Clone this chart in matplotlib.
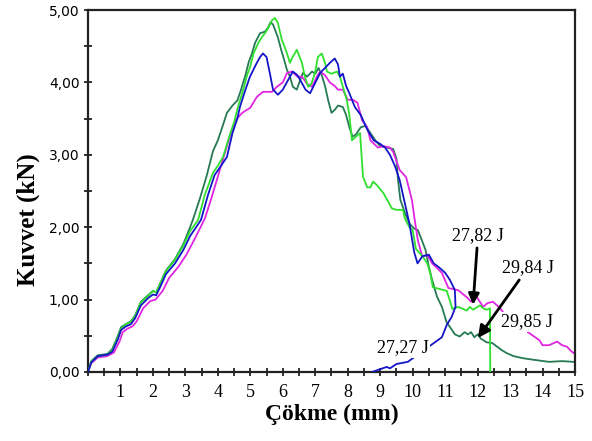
import matplotlib
matplotlib.use('Agg')
import matplotlib.pyplot as plt
from matplotlib.ticker import MultipleLocator
import numpy as np

# ---- data (x: Cokme mm, y: Kuvvet kN) ----
dkgreen_x = [0, 0.1, 0.3, 0.6, 0.75, 0.92, 1.02, 1.17, 1.32, 1.45, 1.63, 1.85, 2.0, 2.1, 2.22, 2.4,
             2.68, 2.93, 3.1, 3.23, 3.45, 3.65, 3.85, 4.0, 4.15, 4.28, 4.45, 4.6, 4.7, 4.85, 4.95,
             5.05, 5.15, 5.3, 5.45, 5.55, 5.62, 5.7, 5.85, 5.95, 6.05, 6.13, 6.22, 6.31, 6.43, 6.55,
             6.62, 6.75, 6.9, 7.0, 7.1, 7.2, 7.3, 7.4, 7.5, 7.6, 7.7, 7.85, 7.95, 8.05, 8.15, 8.25,
             8.4, 8.55, 8.7, 8.85, 9.0, 9.2, 9.4, 9.5, 9.55, 9.62, 9.76, 9.9, 10.05, 10.16, 10.3,
             10.4, 10.5, 10.6, 10.75, 10.9, 11.05, 11.15, 11.3, 11.45, 11.6, 11.7, 11.8, 11.9, 12.0,
             12.1, 12.28, 12.45, 12.6, 12.75, 12.9, 13.1, 13.4, 13.7, 14.2, 14.6, 14.95]
dkgreen_y = [0, 0.15, 0.23, 0.25, 0.32, 0.5, 0.62, 0.66, 0.7, 0.78, 0.97, 1.06, 1.12, 1.1, 1.22, 1.4,
             1.56, 1.76, 1.95, 2.1, 2.4, 2.7, 3.05, 3.2, 3.4, 3.58, 3.68, 3.75, 3.88, 4.1, 4.28,
             4.4, 4.55, 4.68, 4.7, 4.76, 4.83, 4.8, 4.62, 4.45, 4.3, 4.17, 4.08, 3.94, 3.9, 4.05,
             4.13, 4.08, 4.15, 4.12, 4.2, 4.1, 3.95, 3.75, 3.58, 3.62, 3.68, 3.66, 3.55, 3.38, 3.25, 3.28,
             3.38, 3.4, 3.3, 3.2, 3.12, 3.1, 3.08, 2.95, 2.65, 2.38, 2.2, 2.05, 1.98, 1.96, 1.8,
             1.68, 1.45, 1.27, 1.04, 0.9, 0.68, 0.62, 0.52, 0.49, 0.55, 0.52, 0.55, 0.48, 0.52,
             0.46, 0.41, 0.4, 0.35, 0.3, 0.26, 0.22, 0.19, 0.17, 0.14, 0.15, 0.14]

green_x = [0, 0.1, 0.3, 0.6, 0.75, 0.92, 1.02, 1.17, 1.32, 1.45, 1.63, 1.85, 2.0, 2.1, 2.22, 2.4,
           2.68, 2.93, 3.15, 3.39, 3.6, 3.85, 4.0, 4.16, 4.35, 4.5, 4.62, 4.75, 4.9, 4.99, 5.1,
           5.24, 5.35, 5.45, 5.55, 5.67, 5.76, 5.85, 5.97, 6.05, 6.13, 6.22, 6.3, 6.37, 6.43, 6.52,
           6.59, 6.68, 6.78, 6.88, 6.99, 7.08, 7.2, 7.3, 7.36, 7.5, 7.67, 7.76, 7.85, 7.97, 8.05,
           8.13, 8.25, 8.38, 8.44, 8.47, 8.6, 8.7, 8.78, 8.9, 9.1, 9.25, 9.36, 9.5, 9.7, 9.76,
           9.9, 10.0, 10.1, 10.3, 10.45, 10.55, 10.62, 10.8, 11.05, 11.15, 11.22, 11.4, 11.55,
           11.67, 11.76, 11.86, 12.0, 12.07, 12.17, 12.28, 12.38, 12.39]
green_y = [0, 0.14, 0.22, 0.24, 0.3, 0.48, 0.6, 0.66, 0.69, 0.77, 0.96, 1.05, 1.12, 1.1, 1.21, 1.39,
           1.55, 1.74, 1.95, 2.1, 2.45, 2.75, 2.85, 2.97, 3.25, 3.45, 3.66, 3.85, 4.1, 4.21, 4.4,
           4.54, 4.62, 4.68, 4.75, 4.86, 4.89, 4.82, 4.59, 4.5, 4.4, 4.27, 4.35, 4.4, 4.45, 4.35,
           4.27, 4.08, 3.94, 3.98, 4.13, 4.35, 4.4, 4.27, 4.15, 4.12, 4.15, 4.08, 3.94, 3.76, 3.55,
           3.2, 3.25, 3.3, 2.9, 2.7, 2.55, 2.55, 2.63, 2.58, 2.47, 2.35, 2.26, 2.24, 2.24, 2.12,
           2.0, 1.96, 1.7, 1.6, 1.5, 1.35, 1.17, 1.15, 1.12, 0.98, 0.87, 0.9, 0.87,
           0.85, 0.9, 0.86, 0.9, 0.92, 0.88, 0.86, 0.88, 0.0]

blue_x = [0, 0.1, 0.3, 0.6, 0.75, 0.92, 1.02, 1.17, 1.32, 1.45, 1.63, 1.85, 2.0, 2.1, 2.22, 2.4,
          2.68, 2.93, 3.15, 3.48, 3.7, 3.9, 4.1, 4.28, 4.45, 4.6, 4.68, 4.85, 4.99, 5.1, 5.2,
          5.3, 5.39, 5.5, 5.6, 5.7, 5.85, 6.0, 6.16, 6.31, 6.45, 6.59, 6.7, 6.84, 6.95, 7.15,
          7.3, 7.45, 7.6, 7.7, 7.76, 7.85, 7.95, 8.05, 8.22, 8.4, 8.6, 8.8, 9.0, 9.15, 9.3,
          9.45, 9.6, 9.75, 9.9, 10.05, 10.15, 10.3, 10.5, 10.65, 10.8, 11.0, 11.15, 11.3, 11.32,
          11.2, 11.05, 10.9, 9.85, 9.5, 9.4, 9.3, 9.2, 8.75]
blue_y = [0, 0.13, 0.22, 0.24, 0.28, 0.45, 0.58, 0.63, 0.66, 0.74, 0.92, 1.02, 1.07, 1.06, 1.17, 1.35,
          1.5, 1.68, 1.88, 2.1, 2.45, 2.72, 2.85, 2.97, 3.3, 3.5, 3.66, 3.9, 4.08, 4.18, 4.27,
          4.35, 4.4, 4.35, 4.13, 3.9, 3.83, 3.9, 4.03, 4.15, 4.1, 3.99, 3.9, 3.85, 3.95, 4.13,
          4.2, 4.27, 4.33, 4.25, 4.08, 4.12, 3.95, 3.85, 3.66, 3.55, 3.35, 3.2, 3.15, 3.1, 3.0,
          2.85, 2.65, 2.35, 2.05, 1.65, 1.5, 1.6, 1.62, 1.5, 1.45, 1.37, 1.27, 1.13, 0.9,
          0.76, 0.65, 0.48, 0.14, 0.11, 0.08, 0.05, 0.07, 0.0]

magenta_x = [0, 0.1, 0.3, 0.6, 0.8, 0.97, 1.07, 1.22, 1.37, 1.5, 1.7, 1.92, 2.08, 2.3, 2.5, 2.78,
             3.03, 3.3, 3.6, 3.8, 4.0, 4.2, 4.4, 4.55, 4.75, 5.0, 5.2, 5.39, 5.67, 5.82, 6.0,
             6.13, 6.28, 6.45, 6.59, 6.75, 6.9, 7.05, 7.15, 7.3, 7.45, 7.6, 7.7, 7.85, 8.0, 8.16,
             8.3, 8.44, 8.6, 8.7, 8.93, 9.1, 9.3, 9.4, 9.6, 9.8, 9.98, 10.05, 10.16, 10.3, 10.45,
             10.6, 10.9, 11.1, 11.4, 11.7, 11.8, 11.95, 12.07, 12.17, 12.3, 12.47, 12.6, 12.75,
             12.85, 13.9, 14.0, 14.2, 14.45, 14.6, 14.75, 14.9, 15.0]
magenta_y = [0, 0.12, 0.2, 0.22, 0.27, 0.42, 0.55, 0.6, 0.63, 0.7, 0.88, 0.98, 1.0, 1.12, 1.3, 1.45,
             1.62, 1.85, 2.12, 2.4, 2.7, 3.0, 3.3, 3.48, 3.58, 3.65, 3.8, 3.87, 3.87, 3.94, 4.0,
             4.13, 4.15, 4.08, 4.08, 3.98, 3.94, 4.08, 4.15, 4.1, 4.0, 3.95, 3.9, 3.9, 3.76, 3.76,
             3.72, 3.48, 3.38, 3.2, 3.1, 3.12, 3.1, 3.04, 2.79, 2.69, 2.37, 2.14, 1.82, 1.59, 1.62,
             1.5, 1.37, 1.16, 1.13, 1.02, 0.97, 1.05, 0.97, 0.9, 0.95, 0.97, 0.92, 0.85,
             0.77, 0.44, 0.37, 0.37, 0.42, 0.37, 0.35, 0.28, 0.25]

xticks = list(range(1, 16))
yticks = [0, 1, 2, 3, 4, 5]
ytick_labels = ['0,00', '1,00', '2,00', '3,00', '4,00', '5,00']

fig = plt.figure(figsize=(5.92, 4.41), dpi=100)
ax = fig.add_axes([0.1486, 0.1565, 0.8227, 0.8208])

ax.plot(dkgreen_x, dkgreen_y, color='#267a55', lw=1.3, zorder=2)
ax.plot(green_x, green_y, color='#2fe02f', lw=1.3, zorder=3)
ax.plot(magenta_x, magenta_y, color='#e026e0', lw=1.3, zorder=2)
ax.plot(blue_x, blue_y, color='#1515c8', lw=1.3, zorder=3)

ax.set_xlim(0, 15)
ax.set_ylim(0, 5)

ax.set_xticks(xticks)
ax.set_xticklabels([str(t) for t in xticks], family='Liberation Serif', fontsize=13)
ax.xaxis.set_minor_locator(MultipleLocator(0.5))
ax.set_yticks(yticks)
ax.set_yticklabels(ytick_labels, family='DejaVu Sans', fontsize=10)
ax.yaxis.set_minor_locator(MultipleLocator(0.5))
ax.tick_params(axis='both', which='both', direction='inout', length=6, width=1.3, color='#222222')
ax.tick_params(axis='x', pad=6)
ax.tick_params(axis='y', pad=3)

for s in ax.spines.values():
    s.set_linewidth(1.6)
    s.set_color('#222222')

ax.set_xlabel('Çökme (mm)', family='Liberation Serif', fontweight='bold', fontsize=17, va='center')
ax.xaxis.set_label_coords(0.5, -0.117)
ax.set_ylabel('Kuvvet (kN)', family='Liberation Serif', fontweight='bold', fontsize=18, va='center')
ax.yaxis.set_label_coords(-0.123, 0.42)

# energy labels
box = dict(facecolor='white', edgecolor='none', pad=1)
tfont = dict(family='Liberation Serif', fontsize=13, zorder=5)
ax.annotate('27,82 J', xy=(11.86, 0.93), xytext=(12.01, 1.89), ha='center', va='center',
            bbox=box, arrowprops=dict(arrowstyle='-|>', color='black', lw=2, mutation_scale=16,
                                      shrinkA=2, shrinkB=0), **tfont)
ax.annotate('29,84 J', xy=(12.01, 0.47), xytext=(13.55, 1.44), ha='center', va='center',
            bbox=box, arrowprops=dict(arrowstyle='-|>', color='black', lw=2, mutation_scale=18,
                                      shrinkA=2, shrinkB=0), **tfont)
ax.text(13.52, 0.69, '29,85 J', ha='center', va='center', bbox=box, **tfont)
ax.text(9.7, 0.33, '27,27 J', ha='center', va='center', bbox=box, **tfont)

plt.savefig('out.png', dpi=100)
